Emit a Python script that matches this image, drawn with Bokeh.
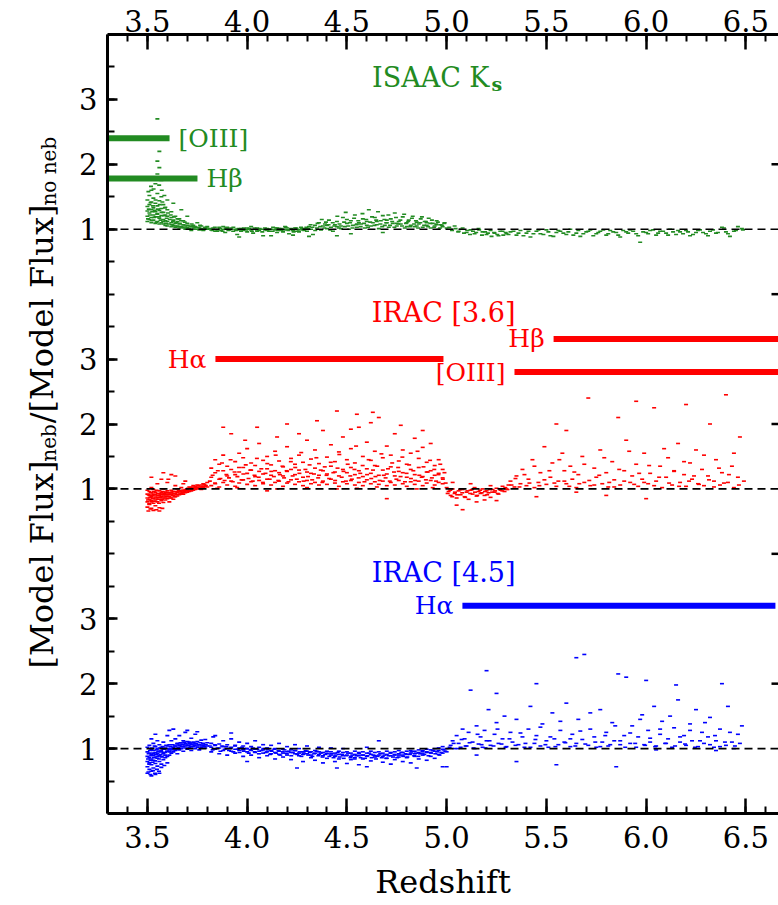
import math
from bokeh.plotting import figure
from bokeh.layouts import row
from bokeh.models import Range1d, LinearAxis, FixedTicker, Label, Span, PrintfTickFormatter
from bokeh.core.properties import value
from bokeh.embed import file_html
from bokeh.resources import INLINE

# ---------------- data (redshift, flux ratio) ----------------
isaac_pts = [
    (3.50,1.12),(3.50,1.20),(3.50,1.28),(3.50,1.35),(3.50,1.45),(3.51,1.15),(3.51,1.25),(3.51,1.38),(3.51,1.52),
    (3.52,1.10),(3.52,1.18),(3.52,1.30),(3.52,1.42),(3.52,1.60),(3.53,1.14),(3.53,1.22),(3.53,1.33),(3.53,1.48),
    (3.54,1.09),(3.54,1.19),(3.54,1.27),(3.54,1.40),(3.54,1.70),(3.55,1.12),(3.55,1.24),(3.55,1.36),(3.55,1.55),
    (3.55,1.85),(3.55,2.05),(3.55,2.70),(3.56,1.08),(3.56,1.17),(3.56,1.29),(3.56,1.44),(3.56,1.95),(3.56,2.20),
    (3.57,1.10),(3.57,1.21),(3.57,1.32),(3.57,1.50),(3.57,1.75),(3.58,1.08),(3.58,1.15),(3.58,1.26),(3.58,1.38),
    (3.59,1.06),(3.59,1.13),(3.59,1.22),(3.59,1.34),(3.60,1.05),(3.60,1.12),(3.60,1.20),(3.60,1.30),(3.60,1.45),
    (3.62,1.04),(3.62,1.10),(3.62,1.18),(3.62,1.27),(3.63,1.06),(3.63,1.14),(3.63,1.40),(3.64,1.03),(3.64,1.09),
    (3.64,1.20),(3.65,1.05),(3.65,1.12),(3.66,1.02),(3.66,1.08),(3.66,1.16),(3.67,1.04),(3.67,1.30),(3.68,1.02),
    (3.68,1.07),(3.68,1.13),(3.69,1.00),(3.69,1.05),(3.70,1.03),(3.70,1.09),(3.70,1.20),(3.71,1.01),(3.72,1.04),
    (3.72,0.98),(3.73,1.06),(3.74,1.00),(3.74,1.03),(3.75,1.10),(3.76,0.99),(3.76,1.02),(3.77,1.05),(3.78,0.98),
    (3.79,1.01),(3.80,1.00),(3.80,1.04),
    (3.82,0.99),(3.83,1.02),(3.84,0.97),(3.85,1.00),(3.86,1.03),(3.87,0.98),(3.88,1.00),(3.89,0.95),(3.90,1.01),
    (3.91,0.99),(3.92,1.02),(3.93,0.97),(3.94,1.00),(3.95,0.92),(3.96,0.99),(3.97,1.01),(3.98,0.98),(3.99,1.00),
    (4.00,0.96),(4.01,1.01),(4.02,0.99),(4.03,0.94),(4.04,1.00),(4.05,1.02),(4.06,0.98),(4.07,1.00),(4.08,0.90),
    (4.09,0.99),(4.10,1.01),(4.11,0.97),(4.12,1.00),(4.13,1.03),(4.14,0.99),(4.15,0.95),(4.16,1.01),(4.17,0.98),
    (4.18,1.00),(4.19,1.04),(4.20,0.99),(4.21,0.93),(4.22,1.01),(4.23,0.98),(4.24,1.02),(4.25,1.00),(4.26,0.96),
    (4.27,1.03),(4.28,0.99),(4.29,1.01),(4.30,0.97),
    (3.85,0.97),(3.90,1.03),(3.95,1.00),(4.00,1.02),(4.05,0.97),(4.10,0.98),(4.15,1.02),(4.20,1.02),(4.25,0.97),
    (3.88,1.04),(4.02,1.04),(4.18,0.96),
    (4.31,1.04),(4.32,1.00),(4.33,0.92),(4.34,1.06),(4.35,1.02),(4.36,1.10),(4.37,0.99),(4.38,1.05),(4.39,1.08),
    (4.40,1.01),(4.41,1.14),(4.42,1.03),(4.43,0.97),(4.44,1.07),(4.45,1.12),(4.46,1.02),(4.47,1.05),(4.48,1.18),
    (4.49,1.04),(4.50,1.09),(4.51,1.00),(4.52,1.13),(4.53,1.06),(4.54,1.22),(4.55,1.03),(4.56,1.10),(4.57,1.08),
    (4.58,1.16),(4.59,1.02),(4.60,1.12),(4.61,1.30),(4.62,1.05),(4.63,1.10),(4.64,1.18),(4.65,1.07),(4.66,1.01),
    (4.67,1.13),(4.68,1.21),(4.69,1.06),(4.70,1.10),(4.71,1.03),(4.72,1.16),(4.73,1.09),(4.74,1.25),(4.75,1.05),
    (4.76,1.12),(4.77,1.08),(4.78,1.19),(4.79,1.02),(4.80,1.10),(4.81,1.14),(4.82,1.06),(4.83,1.20),(4.84,1.04),
    (4.85,1.11),(4.86,1.08),(4.87,1.16),(4.88,1.03),(4.89,1.12),(4.90,1.06),(4.91,1.17),(4.92,1.02),(4.93,1.09),
    (4.94,1.05),(4.95,1.13),(4.96,1.00),(4.97,1.07),(4.98,1.04),(4.99,1.10),(5.00,1.02),
    (4.45,1.04),(4.55,1.08),(4.65,1.12),(4.75,1.09),(4.85,1.05),(4.95,1.07),(4.60,1.06),(4.70,1.14),(4.80,1.04),
    (4.90,1.10),(4.50,1.15),(4.40,1.06),
    (5.02,1.00),(5.04,1.05),(5.06,0.97),(5.08,1.02),(5.10,0.95),(5.12,0.99),(5.14,0.93),(5.16,1.01),(5.18,0.96),
    (5.20,0.92),(5.22,0.98),(5.24,0.94),(5.26,0.90),(5.28,0.97),(5.30,0.93),
    (5.32,0.96),(5.35,0.91),(5.37,0.98),(5.40,0.94),(5.42,0.88),(5.45,0.97),(5.47,0.93),(5.50,0.99),(5.52,0.90),
    (5.55,0.95),(5.57,0.97),(5.60,0.92),(5.62,1.00),(5.65,0.94),(5.67,0.89),(5.70,0.96),(5.72,0.99),(5.75,0.93),
    (5.77,0.97),(5.80,0.91),(5.82,0.98),(5.85,0.95),(5.87,0.88),(5.90,0.96),(5.92,0.99),(5.95,0.93),(5.97,0.80),
    (6.00,0.95),(6.02,0.98),(6.05,0.91),(6.07,0.97),(6.10,0.94),(6.12,1.00),(6.15,0.92),(6.17,0.96),(6.20,0.98),
    (6.22,0.90),(6.25,0.95),(6.27,0.99),(6.30,0.93),(6.32,0.97),(6.35,0.94),(6.38,1.03),(6.40,0.96),(6.42,0.89),
    (6.45,0.98),(6.48,1.01),
]
isaac_dense = [
    (3.503,1.16),(3.507,1.31),(3.512,1.22),(3.516,1.41),(3.521,1.13),(3.524,1.27),(3.528,1.36),(3.533,1.18),
    (3.537,1.29),(3.541,1.45),(3.546,1.11),(3.549,1.23),(3.553,1.31),(3.558,1.19),(3.562,1.38),(3.566,1.14),
    (3.571,1.26),(3.575,1.42),(3.579,1.12),(3.584,1.21),(3.588,1.33),(3.593,1.09),(3.597,1.17),(3.603,1.25),
    (3.607,1.08),(3.612,1.15),(3.617,1.22),(3.623,1.07),(3.628,1.12),(3.634,1.19),(3.639,1.05),(3.645,1.10),
    (3.651,1.16),(3.657,1.04),(3.663,1.09),(3.669,1.13),(3.675,1.03),(3.681,1.07),(3.687,1.11),(3.694,1.02),
    (3.701,1.06),(3.708,1.01),(3.715,1.05),(3.722,1.08),(3.731,1.02),(3.738,1.04),(3.747,1.00),(3.755,1.03),
    (3.764,1.06),(3.772,1.01),(3.781,0.99),(3.789,1.03),(3.797,1.02),
    (3.505,1.58),(3.518,1.66),(3.531,1.62),(3.543,1.78),(3.559,1.68),(3.572,1.60),(3.585,1.52),
    (3.813,1.01),(3.826,0.98),(3.838,1.03),(3.851,0.99),(3.864,1.01),(3.877,0.97),(3.893,1.02),(3.906,0.98),
    (3.918,1.00),(3.931,1.03),(3.944,0.98),(3.957,1.01),(3.969,0.97),(3.983,1.02),(3.996,0.99),(4.011,1.00),
    (4.024,0.97),(4.037,1.02),(4.049,0.99),(4.063,1.01),(4.076,0.96),(4.089,1.02),(4.103,0.99),(4.116,1.00),
    (4.128,0.97),(4.142,1.02),(4.155,0.98),(4.168,1.01),(4.181,0.99),(4.194,1.03),(4.207,0.98),(4.221,1.00),
    (4.233,0.96),(4.246,1.02),(4.259,0.99),(4.273,1.01),(4.286,0.98),(4.297,1.03),
    (3.96,0.88),(4.12,0.90),(4.23,0.91),(4.31,0.89),
    (4.305,1.01),(4.318,1.07),(4.327,1.03),(4.341,0.98),(4.353,1.09),(4.366,1.04),(4.374,1.15),(4.387,1.02),
    (4.395,1.11),(4.408,1.07),(4.416,0.99),(4.429,1.10),(4.437,1.05),(4.452,1.20),(4.463,1.08),(4.471,1.01),
    (4.486,1.11),(4.494,1.26),(4.507,1.05),(4.516,1.10),(4.528,1.02),(4.536,1.17),(4.548,1.07),(4.557,1.13),
    (4.569,1.04),(4.578,1.24),(4.586,1.09),(4.597,1.15),(4.606,1.03),(4.617,1.11),(4.626,1.19),(4.638,1.06),
    (4.647,1.14),(4.656,1.27),(4.668,1.08),(4.677,1.04),(4.688,1.15),(4.697,1.10),(4.708,1.22),(4.716,1.06),
    (4.727,1.12),(4.738,1.03),(4.746,1.18),(4.757,1.08),(4.768,1.14),(4.776,1.05),(4.787,1.23),(4.796,1.09),
    (4.807,1.12),(4.818,1.04),(4.826,1.17),(4.837,1.08),(4.846,1.13),(4.857,1.02),(4.868,1.10),(4.876,1.19),
    (4.887,1.06),(4.896,1.12),(4.907,1.04),(4.918,1.09),(4.926,1.14),(4.937,1.03),(4.948,1.08),(4.956,1.11),
    (4.967,1.02),(4.976,1.06),(4.988,1.09),(4.45,0.90),(4.52,0.93),(4.68,0.95),
    (5.013,1.03),(5.027,0.98),(5.045,1.01),(5.058,0.96),(5.072,1.00),(5.087,0.94),(5.103,0.98),(5.117,0.92),
    (5.132,0.97),(5.148,0.95),(5.163,0.99),(5.177,0.91),(5.193,0.96),(5.207,0.94),(5.225,0.89),(5.238,0.95),
    (5.254,0.92),(5.269,0.97),(5.284,0.91),(5.296,0.95),
    (5.31,0.92),(5.335,0.97),(5.36,0.94),(5.385,0.90),(5.41,0.97),(5.435,0.93),(5.46,0.99),(5.485,0.92),
    (5.51,0.96),(5.535,0.89),(5.56,0.98),(5.585,0.94),(5.61,0.96),(5.635,0.91),(5.66,0.98),(5.685,0.93),
    (5.71,0.97),(5.735,0.90),(5.76,0.95),(5.785,0.99),(5.81,0.93),(5.835,0.96),(5.86,0.91),(5.885,0.98),
    (5.91,0.94),(5.935,0.97),(5.96,0.90),(5.985,0.96),(6.01,0.93),(6.035,0.99),(6.06,0.94),(6.085,0.97),
    (6.11,0.91),(6.135,0.96),(6.16,0.98),(6.185,0.93),(6.21,0.96),(6.235,0.92),(6.26,0.98),(6.285,0.95),
    (6.31,0.90),(6.335,0.99),(6.36,0.95),(6.39,1.02),(6.41,0.93),(6.44,0.97),(6.46,1.04),(6.485,0.99),
]

irac1_pts = [
    (3.50,0.72),(3.50,0.80),(3.50,0.86),(3.50,0.92),(3.50,0.98),(3.51,0.76),(3.51,0.84),(3.51,0.90),(3.51,0.96),
    (3.52,0.70),(3.52,0.82),(3.52,0.88),(3.52,0.94),(3.52,1.02),(3.53,0.78),(3.53,0.86),(3.53,0.92),(3.53,0.99),
    (3.54,0.74),(3.54,0.83),(3.54,0.89),(3.54,0.95),(3.55,0.80),(3.55,0.87),(3.55,0.93),(3.55,1.08),(3.56,0.71),
    (3.56,0.84),(3.56,0.90),(3.56,0.97),(3.57,0.82),(3.57,0.88),(3.57,0.94),(3.57,1.15),(3.58,0.79),(3.58,0.86),
    (3.58,0.92),(3.58,1.00),(3.59,0.83),(3.59,0.89),(3.59,0.95),(3.60,0.85),(3.60,0.91),(3.60,0.97),(3.60,1.10),
    (3.61,0.80),(3.61,0.88),(3.61,0.94),(3.62,0.86),(3.62,0.92),(3.62,0.98),(3.62,1.22),(3.63,0.84),(3.63,0.90),
    (3.63,0.96),(3.64,0.88),(3.64,0.93),(3.64,1.05),(3.65,0.89),(3.65,0.95),(3.65,1.00),
    (3.66,0.91),(3.66,0.97),(3.67,0.93),(3.67,1.02),(3.68,0.92),(3.68,0.98),(3.69,0.94),(3.69,1.12),(3.70,0.95),
    (3.70,1.00),(3.71,0.96),(3.71,1.03),(3.72,0.97),(3.72,1.01),(3.73,0.98),(3.73,1.05),(3.74,0.99),(3.74,1.02),
    (3.75,1.00),(3.75,1.06),(3.76,1.01),(3.77,1.03),(3.77,0.99),(3.78,1.02),(3.78,1.08),(3.79,1.04),(3.80,1.03),
    (3.80,1.10),
    (3.82,1.05),(3.82,1.18),(3.82,1.32),(3.84,1.08),(3.84,1.25),(3.84,1.45),(3.86,1.03),(3.86,1.15),(3.86,1.38),
    (3.88,1.10),(3.88,1.28),(3.88,1.52),(3.90,1.06),(3.90,1.20),(3.90,1.35),(3.92,1.12),(3.92,1.30),(3.92,1.85),
    (3.94,1.04),(3.94,1.22),(3.94,1.42),(3.96,1.09),(3.96,1.26),(3.96,1.55),(3.98,1.14),(3.98,1.33),(3.98,1.48),
    (4.00,1.07),(4.00,1.24),(4.00,1.62),(4.02,1.11),(4.02,1.29),(4.02,1.40),(4.04,1.05),(4.04,1.19),(4.04,1.36),
    (4.06,1.13),(4.06,1.27),(4.06,1.70),(4.08,1.08),(4.08,1.23),(4.08,1.44),(4.10,1.15),(4.10,1.31),(4.10,1.50),
    (4.12,1.06),(4.12,1.21),(4.12,1.37),(4.14,1.10),(4.14,1.28),(4.14,1.58),(4.16,1.12),(4.16,1.25),(4.16,1.43),
    (4.18,1.04),(4.18,1.20),(4.18,1.34),(4.20,1.09),(4.20,1.27),(4.20,1.65),(4.22,1.14),(4.22,1.30),(4.22,1.47),
    (4.24,1.07),(4.24,1.22),(4.24,1.38),(4.26,1.11),(4.26,1.29),(4.26,1.52),(4.28,1.05),(4.28,1.18),(4.28,1.41),
    (4.30,1.13),(4.30,1.26),(4.30,1.75),(4.32,1.08),(4.32,1.24),(4.32,1.46),(4.34,1.10),(4.34,1.32),(4.34,1.60),
    (4.36,1.06),(4.36,1.21),(4.36,1.39),(4.38,1.12),(4.38,1.28),(4.38,1.90),(4.40,1.07),(4.40,1.23),(4.40,1.49),
    (4.42,1.15),(4.42,1.35),(4.42,1.68),(4.44,1.09),(4.44,1.26),(4.44,1.42),(4.46,1.04),(4.46,1.20),(4.46,1.57),
    (4.48,1.11),(4.48,1.30),(4.48,1.80),(4.50,1.08),(4.50,1.25),(4.50,1.45),(4.52,1.13),(4.52,1.33),(4.52,1.62),
    (4.54,1.06),(4.54,1.22),(4.54,1.40),(4.56,1.10),(4.56,1.28),(4.56,1.95),(4.58,1.05),(4.58,1.19),(4.58,1.50),
    (4.60,1.14),(4.60,1.31),(4.60,1.72),(4.62,1.08),(4.62,1.24),(4.62,1.44),(4.64,1.11),(4.64,1.36),(4.64,1.58),
    (4.66,1.07),(4.66,1.21),(4.66,2.10),(4.68,1.12),(4.68,1.29),(4.68,1.48),(4.70,1.05),(4.70,1.23),(4.70,1.66),
    (4.72,1.10),(4.72,1.34),(4.72,1.52),(4.74,1.06),(4.74,1.20),(4.74,1.85),(4.76,1.13),(4.76,1.27),(4.76,1.43),
    (4.78,1.08),(4.78,1.25),(4.78,1.60),(4.80,1.04),(4.80,1.18),(4.80,1.38),(4.82,1.11),(4.82,1.30),(4.82,1.55),
    (4.84,1.07),(4.84,1.22),(4.84,1.78),(4.86,1.12),(4.86,1.33),(4.86,1.47),(4.88,1.05),(4.88,1.19),(4.88,1.64),
    (4.90,1.09),(4.90,1.26),(4.90,1.41),(4.92,1.13),(4.92,1.28),(4.92,1.70),(4.94,1.06),(4.94,1.21),(4.94,1.36),
    (4.96,1.10),(4.96,1.24),(4.96,1.45),(4.98,1.08),(4.98,1.17),(4.98,1.30),
    (4.10,0.97),(4.45,1.00),(4.70,0.85),(4.55,2.15),(4.35,2.05),(4.05,1.95),(4.20,2.00),(4.62,2.02),
    (5.00,1.02),(5.01,0.96),(5.02,0.90),(5.03,1.00),(5.04,0.93),(5.05,0.86),(5.06,0.97),(5.07,0.91),(5.08,0.99),
    (5.09,0.88),(5.10,0.95),(5.11,0.84),(5.12,0.98),(5.13,0.92),(5.14,1.02),(5.15,0.89),(5.16,0.96),(5.17,0.93),
    (5.18,1.00),(5.19,0.90),(5.20,0.97),(5.21,0.94),(5.22,0.87),(5.23,0.99),(5.24,0.95),(5.25,1.01),(5.26,0.92),
    (5.27,0.98),(5.28,1.04),(5.29,0.96),(5.30,1.00),(5.31,1.06),(5.05,0.75),(5.08,0.68),(5.25,0.82),
    (5.32,1.12),(5.34,1.03),(5.35,1.20),(5.37,1.08),(5.38,1.30),(5.40,1.05),(5.41,1.15),(5.43,1.45),(5.44,1.02),
    (5.46,1.10),(5.47,1.25),(5.49,1.65),(5.50,1.07),(5.52,1.18),(5.53,1.40),(5.55,1.04),(5.56,1.12),(5.58,1.55),
    (5.59,1.28),(5.60,1.08),(5.62,1.35),(5.63,1.15),(5.65,1.02),(5.66,1.22),(5.68,1.50),(5.69,1.10),(5.71,2.40),
    (5.72,1.05),(5.74,1.32),(5.75,1.18),(5.77,1.60),(5.78,1.08),(5.80,1.25),(5.81,1.03),(5.83,1.42),(5.84,1.14),
    (5.86,2.10),(5.87,1.06),(5.89,1.28),(5.90,1.75),(5.92,1.10),(5.93,1.20),(5.95,1.38),(5.96,1.04),(5.98,1.15),
    (5.99,1.55),(6.01,1.08),(6.02,1.24),(6.04,2.25),(6.05,1.12),(6.07,1.35),(6.08,1.02),(6.10,1.18),(6.11,1.48),
    (6.13,1.06),(6.14,1.28),(6.16,1.70),(6.17,1.10),(6.19,1.22),(6.20,1.04),(6.22,1.40),(6.23,1.15),(6.25,1.60),
    (6.26,1.08),(6.28,1.30),(6.29,1.05),(6.31,1.20),(6.32,2.00),(6.34,1.12),(6.35,1.45),(6.37,1.06),(6.38,1.25),
    (6.40,2.45),(6.41,1.10),(6.43,1.35),(6.44,1.02),(6.46,1.18),(6.47,1.80),(6.49,1.12),(5.55,2.00),(5.65,0.95),
    (5.80,0.90),(6.00,0.85),(5.45,0.88),(6.20,2.30),(5.95,2.35),(5.60,1.90),
]
irac1_dense = [
    (3.503,0.83),(3.506,0.91),(3.509,0.77),(3.514,0.87),(3.517,0.94),(3.521,0.80),(3.525,0.90),(3.528,0.85),
    (3.532,0.96),(3.535,0.81),(3.539,0.91),(3.543,0.86),(3.546,0.98),(3.551,0.84),(3.554,0.90),(3.558,0.78),
    (3.562,0.93),(3.565,0.87),(3.569,0.91),(3.573,0.84),(3.577,0.96),(3.581,0.89),(3.585,0.93),(3.589,0.86),
    (3.593,0.92),(3.597,0.88),(3.603,0.94),(3.607,0.89),(3.612,0.92),(3.616,0.86),(3.621,0.95),(3.626,0.90),
    (3.631,0.93),(3.636,0.88),(3.641,0.96),(3.646,0.91),(3.652,0.94),(3.657,0.97),(3.663,0.92),(3.668,0.96),
    (3.674,0.94),(3.679,0.98),(3.685,0.96),(3.691,0.99),(3.697,0.97),(3.703,1.01),(3.709,0.98),(3.716,1.02),
    (3.722,1.00),(3.729,1.03),(3.735,1.01),(3.742,1.04),(3.749,1.02),(3.756,1.05),(3.763,1.03),(3.771,1.06),
    (3.778,1.04),(3.786,1.07),(3.793,1.05),
    (3.505,0.66),(3.515,0.69),(3.53,0.67),(3.545,0.68),(3.56,0.66),(3.575,0.70),(3.52,1.18),(3.58,1.25),
    (3.605,1.15),(3.64,1.20),(3.68,1.08),
    (3.813,1.12),(3.827,1.21),(3.839,1.09),(3.853,1.28),(3.866,1.16),(3.874,1.40),(3.887,1.13),(3.896,1.22),
    (3.909,1.17),(3.917,1.45),(3.928,1.11),(3.937,1.26),(3.951,1.19),(3.959,1.33),(3.972,1.14),(3.981,1.23),
    (3.993,1.37),(4.007,1.16),(4.016,1.29),(4.028,1.12),(4.037,1.21),(4.049,1.47),(4.058,1.18),(4.071,1.31),
    (4.079,1.10),(4.092,1.24),(4.101,1.39),(4.113,1.15),(4.121,1.27),(4.134,1.19),(4.143,1.52),(4.156,1.13),
    (4.164,1.22),(4.177,1.35),(4.185,1.17),(4.198,1.28),(4.207,1.11),(4.219,1.42),(4.228,1.20),(4.241,1.33),
    (4.249,1.15),(4.262,1.24),(4.271,1.56),(4.283,1.12),(4.292,1.30),(4.305,1.19),(4.313,1.37),(4.326,1.14),
    (4.335,1.23),(4.347,1.48),(4.356,1.17),(4.369,1.29),(4.377,1.10),(4.389,1.34),(4.398,1.21),(4.411,1.16),
    (4.419,1.41),(4.432,1.25),(4.441,1.13),(4.453,1.32),(4.462,1.53),(4.474,1.18),(4.483,1.27),(4.495,1.12),
    (4.504,1.38),(4.517,1.20),(4.525,1.15),(4.538,1.30),(4.546,1.66),(4.559,1.17),(4.567,1.24),(4.579,1.36),
    (4.588,1.11),(4.601,1.22),(4.609,1.45),(4.622,1.16),(4.631,1.29),(4.643,1.19),(4.652,1.35),(4.664,1.13),
    (4.673,1.54),(4.685,1.21),(4.694,1.17),(4.706,1.31),(4.715,1.12),(4.727,1.40),(4.736,1.26),(4.748,1.15),
    (4.757,1.33),(4.769,1.19),(4.778,1.49),(4.791,1.11),(4.799,1.24),(4.812,1.37),(4.821,1.16),(4.833,1.28),
    (4.842,1.13),(4.854,1.58),(4.863,1.21),(4.875,1.18),(4.884,1.34),(4.896,1.14),(4.905,1.26),(4.917,1.44),
    (4.926,1.17),(4.938,1.30),(4.947,1.12),(4.959,1.22),(4.968,1.38),(4.981,1.15),(4.989,1.25),(4.995,1.09),
    (3.85,1.01),(3.95,1.02),(4.15,1.00),(4.30,1.02),(4.55,1.01),(4.65,1.03),(4.85,1.00),(4.93,1.02),
    (3.88,1.95),(3.99,1.75),(4.26,1.85),(4.45,2.20),(4.52,1.92),(4.63,2.18),(4.77,1.98),(4.88,1.90),(4.15,1.80),
    (5.005,0.93),(5.018,0.98),(5.028,0.88),(5.042,0.95),(5.053,0.91),(5.067,0.99),(5.078,0.94),(5.093,0.87),
    (5.104,0.97),(5.118,0.93),(5.127,0.99),(5.142,0.95),(5.153,0.90),(5.168,0.98),(5.176,0.94),(5.192,0.96),
    (5.203,0.91),(5.217,0.99),(5.228,0.95),(5.243,0.97),(5.256,0.93),(5.268,1.00),(5.279,0.97),(5.294,1.02),
    (5.305,0.99),(5.15,0.80),(5.19,0.83),(5.03,1.10),(5.12,1.08),(5.22,1.05),
    (5.325,1.06),(5.345,1.16),(5.365,1.03),(5.39,1.22),(5.415,1.09),(5.44,1.35),(5.465,1.05),(5.49,1.14),
    (5.515,1.28),(5.54,1.09),(5.565,1.45),(5.59,1.12),(5.615,1.04),(5.64,1.26),(5.665,1.08),(5.69,1.38),
    (5.715,1.13),(5.74,1.06),(5.765,1.21),(5.79,1.48),(5.815,1.10),(5.84,1.03),(5.865,1.30),(5.89,1.12),
    (5.915,1.58),(5.94,1.07),(5.965,1.24),(5.99,1.10),(6.015,1.36),(6.04,1.05),(6.065,1.18),(6.09,1.62),
    (6.115,1.09),(6.14,1.27),(6.165,1.04),(6.19,1.42),(6.215,1.12),(6.24,1.20),(6.265,1.07),(6.29,1.52),
    (6.315,1.14),(6.34,1.03),(6.365,1.32),(6.39,1.09),(6.415,1.22),(6.44,1.55),(6.465,1.06),
]

irac2_pts = [
    (3.50,0.62),(3.50,0.72),(3.50,0.80),(3.50,0.88),(3.50,0.95),(3.50,1.02),(3.51,0.68),(3.51,0.78),(3.51,0.86),
    (3.51,0.93),(3.51,1.05),(3.52,0.65),(3.52,0.75),(3.52,0.84),(3.52,0.91),(3.52,0.99),(3.52,1.15),(3.53,0.70),
    (3.53,0.82),(3.53,0.90),(3.53,0.97),(3.53,1.08),(3.54,0.60),(3.54,0.77),(3.54,0.87),(3.54,0.94),(3.54,1.03),
    (3.55,0.73),(3.55,0.85),(3.55,0.92),(3.55,1.00),(3.55,1.12),(3.56,0.80),(3.56,0.89),(3.56,0.96),(3.56,1.06),
    (3.57,0.76),(3.57,0.88),(3.57,0.95),(3.57,1.02),(3.58,0.83),(3.58,0.92),(3.58,0.99),(3.58,1.10),(3.59,0.86),
    (3.59,0.94),(3.59,1.01),(3.60,0.88),(3.60,0.96),(3.60,1.04),(3.60,1.20),
    (3.61,0.90),(3.61,0.98),(3.61,1.06),(3.62,0.93),(3.62,1.00),(3.62,1.12),(3.63,0.95),(3.63,1.02),(3.63,1.30),
    (3.64,0.97),(3.64,1.04),(3.64,1.15),(3.65,0.92),(3.65,1.00),(3.65,1.08),(3.66,0.98),(3.66,1.05),(3.66,1.20),
    (3.67,1.00),(3.67,1.07),(3.68,0.96),(3.68,1.03),(3.68,1.12),(3.69,1.01),(3.69,1.08),(3.70,0.99),(3.70,1.05),
    (3.70,1.28),(3.71,1.02),(3.71,1.10),(3.72,0.97),(3.72,1.06),(3.72,1.16),(3.73,1.03),(3.73,1.09),(3.74,1.00),
    (3.74,1.07),(3.74,1.22),(3.75,1.04),(3.75,1.11),(3.76,0.98),(3.76,1.06),(3.77,1.02),(3.77,1.13),(3.78,1.05),
    (3.78,1.08),(3.79,1.01),(3.79,1.14),(3.80,1.04),(3.80,1.09),
    (3.82,1.02),(3.82,1.08),(3.82,0.95),(3.84,1.05),(3.84,0.99),(3.84,1.20),(3.86,1.01),(3.86,1.07),(3.86,0.92),
    (3.88,1.03),(3.88,0.97),(3.88,1.12),(3.90,1.00),(3.90,1.06),(3.90,0.90),(3.92,1.02),(3.92,0.96),(3.92,1.15),
    (3.94,0.99),(3.94,1.05),(3.94,0.93),(3.96,1.01),(3.96,0.97),(3.96,1.10),(3.98,0.98),(3.98,1.04),(3.98,0.88),
    (4.00,1.00),(4.00,0.95),(4.00,1.08),(4.02,0.97),(4.02,1.03),(4.02,0.90),(4.04,0.99),(4.04,0.94),(4.04,1.12),
    (4.06,0.96),(4.06,1.02),(4.06,0.86),(4.08,0.98),(4.08,0.93),(4.08,1.06),(4.10,0.95),(4.10,1.01),(4.10,0.89),
    (4.12,0.97),(4.12,0.92),(4.12,1.05),(4.14,0.94),(4.14,1.00),(4.14,0.84),(4.16,0.96),(4.16,0.91),(4.16,1.08),
    (4.18,0.93),(4.18,0.99),(4.18,0.87),(4.20,0.95),(4.20,0.90),(4.20,1.03),(4.22,0.94),(4.22,0.98),(4.22,0.83),
    (4.24,0.92),(4.24,0.97),(4.24,1.06),(4.26,0.93),(4.26,0.89),(4.26,1.00),(4.28,0.95),(4.28,0.91),(4.28,0.80),
    (4.30,0.92),(4.30,0.96),(4.30,1.04),(4.32,0.90),(4.32,0.95),(4.32,0.86),(4.34,0.93),(4.34,0.97),(4.34,0.82),
    (4.36,0.91),(4.36,0.95),(4.36,1.02),(4.38,0.89),(4.38,0.94),(4.38,0.78),(4.40,0.92),(4.40,0.96),(4.40,0.85),
    (4.42,0.90),(4.42,0.95),(4.42,1.01),(4.44,0.88),(4.44,0.93),(4.44,0.80),(4.46,0.91),(4.46,0.96),(4.46,0.84),
    (4.48,0.89),(4.48,0.94),(4.48,1.00),(4.50,0.90),(4.50,0.95),(4.50,0.77),(4.52,0.88),(4.52,0.93),(4.52,0.83),
    (4.54,0.91),(4.54,0.96),(4.54,0.86),(4.56,0.89),(4.56,0.94),(4.56,0.75),(4.58,0.90),(4.58,0.95),(4.58,0.84),
    (4.60,0.88),(4.60,0.93),(4.60,1.02),(4.62,0.91),(4.62,0.96),(4.62,0.81),(4.64,0.89),(4.64,0.94),(4.64,0.87),
    (4.66,0.90),(4.66,0.95),(4.66,1.12),(4.68,0.88),(4.68,0.93),(4.68,0.79),(4.70,0.91),(4.70,0.96),(4.70,0.85),
    (4.72,0.89),(4.72,0.94),(4.72,0.76),(4.74,0.90),(4.74,0.95),(4.74,0.83),(4.76,0.92),(4.76,0.97),(4.76,0.87),
    (4.78,0.90),(4.78,0.94),(4.78,0.80),(4.80,0.91),(4.80,0.96),(4.80,0.86),(4.82,0.93),(4.82,0.97),(4.82,0.78),
    (4.84,0.92),(4.84,0.96),(4.84,0.88),(4.86,0.94),(4.86,0.98),(4.86,0.84),(4.88,0.93),(4.88,0.97),(4.88,0.90),
    (4.90,0.95),(4.90,0.99),(4.90,0.82),(4.92,0.94),(4.92,0.98),(4.92,0.88),(4.94,0.96),(4.94,1.00),(4.94,0.85),
    (4.96,0.97),(4.96,1.01),(4.96,0.91),(4.98,0.99),(4.98,1.03),(4.98,0.93),(5.00,1.00),(5.00,0.95),(5.00,0.72),
    (3.52,0.58),(3.56,0.62),(4.00,0.80),(4.25,0.70),(4.45,0.70),(4.60,0.72),(4.85,0.70),(4.98,0.72),
    (5.02,1.05),(5.03,1.12),(5.04,1.00),(5.05,1.20),(5.06,1.08),(5.07,1.02),(5.08,1.30),(5.09,1.15),(5.10,1.04),
    (5.11,1.25),(5.12,1.90),(5.13,1.10),(5.14,1.00),(5.15,1.35),(5.16,1.07),(5.17,1.18),(5.18,1.02),(5.19,1.28),
    (5.20,1.12),(5.21,1.60),(5.22,1.05),(5.24,1.22),(5.25,1.40),(5.26,1.08),(5.28,1.15),(5.29,1.50),(5.30,1.03),
    (5.32,1.25),(5.33,1.10),(5.35,1.45),(5.36,1.06),(5.38,1.18),(5.39,1.02),(5.41,1.30),(5.42,1.65),(5.44,1.08),
    (5.45,1.20),(5.47,1.04),(5.48,1.38),(5.50,1.12),(5.51,1.02),(5.53,1.55),(5.54,1.15),(5.56,1.06),(5.57,1.28),
    (5.59,1.10),(5.60,1.70),(5.62,1.03),(5.63,1.22),(5.65,1.08),(5.66,1.45),(5.68,1.14),(5.69,2.45),(5.71,1.05),
    (5.72,1.30),(5.74,1.18),(5.75,1.02),(5.77,1.60),(5.78,1.10),(5.80,1.25),(5.81,1.04),(5.83,1.40),(5.84,1.12),
    (5.86,2.15),(5.87,1.06),(5.89,1.20),(5.90,2.10),(5.92,1.08),(5.93,1.35),(5.95,1.02),(5.96,1.18),(5.98,1.52),
    (5.99,1.06),(6.01,1.28),(6.02,1.10),(6.04,1.65),(6.05,1.04),(6.07,1.22),(6.08,1.42),(6.10,1.08),(6.11,1.15),
    (6.13,1.02),(6.14,1.32),(6.16,1.75),(6.17,1.10),(6.19,1.20),(6.20,1.05),(6.22,1.38),(6.23,1.12),(6.25,1.60),
    (6.26,1.03),(6.28,1.25),(6.29,1.08),(6.31,1.18),(6.32,1.48),(6.34,1.02),(6.35,1.12),(6.37,1.30),(6.38,2.00),
    (6.40,1.05),(6.41,1.65),(6.43,1.10),(6.44,1.00),(6.46,1.22),(6.48,1.35),(5.15,0.90),(5.35,0.80),(5.55,0.75),
    (5.85,0.72),(6.05,0.98),(6.35,0.97),(5.20,2.20),(5.45,2.00),(5.65,2.40),(6.00,2.05),(6.15,1.98),(5.25,1.85),
]
irac2_dense = [
    (3.503,0.84),(3.506,0.92),(3.509,0.76),(3.513,0.97),(3.516,0.82),(3.519,0.89),(3.523,1.01),(3.526,0.79),
    (3.529,0.93),(3.533,0.86),(3.536,1.04),(3.539,0.81),(3.543,0.91),(3.547,0.98),(3.551,0.88),(3.554,0.95),
    (3.558,0.84),(3.562,1.01),(3.565,0.91),(3.569,0.97),(3.573,0.87),(3.577,1.03),(3.581,0.94),(3.585,0.99),
    (3.589,0.90),(3.594,1.05),(3.598,0.96),(3.605,1.00),(3.611,0.95),(3.616,1.03),(3.622,0.98),(3.627,1.06),
    (3.633,1.00),(3.638,1.04),(3.644,0.99),(3.649,1.07),(3.655,1.02),(3.661,1.05),(3.666,1.09),(3.672,1.03),
    (3.678,1.06),(3.684,1.10),(3.689,1.04),(3.695,1.07),(3.701,1.11),(3.707,1.05),(3.713,1.08),(3.719,1.03),
    (3.725,1.07),(3.731,1.10),(3.737,1.05),(3.744,1.08),(3.751,1.02),(3.758,1.06),(3.765,1.09),(3.772,1.04),
    (3.779,1.07),(3.786,1.03),(3.793,1.06),
    (3.505,0.64),(3.515,0.60),(3.528,0.66),(3.538,0.62),(3.548,0.68),(3.558,0.65),(3.57,0.71),(3.585,0.74),
    (3.60,0.78),(3.54,1.22),(3.61,1.28),(3.69,1.25),(3.75,1.26),(3.83,1.18),(3.92,1.24),
    (3.813,1.04),(3.827,0.98),(3.838,1.06),(3.852,1.01),(3.866,0.96),(3.873,1.04),(3.887,0.99),(3.896,1.03),
    (3.909,0.97),(3.918,1.01),(3.931,0.95),(3.939,1.04),(3.953,0.99),(3.962,0.94),(3.974,1.02),(3.983,0.96),
    (3.996,1.00),(4.008,0.93),(4.017,0.98),(4.029,1.01),(4.038,0.95),(4.051,0.99),(4.059,0.92),(4.072,0.97),
    (4.081,1.00),(4.093,0.94),(4.102,0.98),(4.115,0.91),(4.123,0.96),(4.136,0.99),(4.145,0.93),(4.157,0.97),
    (4.166,0.90),(4.179,0.95),(4.187,0.98),(4.199,0.92),(4.208,0.96),(4.221,0.89),(4.229,0.94),(4.242,0.97),
    (4.251,0.91),(4.263,0.95),(4.272,0.88),(4.284,0.93),(4.293,0.97),(4.306,0.90),(4.314,0.94),(4.327,0.88),
    (4.336,0.92),(4.348,0.96),(4.357,0.89),(4.369,0.93),(4.378,0.87),(4.391,0.91),(4.399,0.95),(4.412,0.88),
    (4.421,0.92),(4.433,0.86),(4.442,0.90),(4.454,0.94),(4.463,0.87),(4.476,0.91),(4.484,0.85),(4.497,0.89),
    (4.505,0.93),(4.518,0.86),(4.527,0.90),(4.539,0.84),(4.548,0.89),(4.561,0.92),(4.569,0.86),(4.582,0.90),
    (4.591,0.85),(4.603,0.89),(4.612,0.93),(4.624,0.86),(4.633,0.90),(4.646,0.84),(4.654,0.88),(4.667,0.92),
    (4.675,0.86),(4.688,0.90),(4.697,0.85),(4.709,0.89),(4.718,0.93),(4.731,0.87),(4.739,0.91),(4.752,0.86),
    (4.761,0.90),(4.773,0.94),(4.782,0.88),(4.794,0.92),(4.803,0.87),(4.816,0.91),(4.824,0.95),(4.837,0.89),
    (4.846,0.93),(4.858,0.88),(4.867,0.92),(4.879,0.96),(4.888,0.91),(4.901,0.94),(4.909,0.89),(4.922,0.93),
    (4.931,0.97),(4.943,0.92),(4.952,0.95),(4.964,0.90),(4.973,0.94),(4.985,0.98),(4.993,0.96),
    (5.015,1.02),(5.035,1.08),(5.055,1.00),(5.075,1.14),(5.095,1.04),(5.115,1.09),(5.135,1.01),(5.155,1.22),
    (5.175,1.06),(5.195,1.01),(5.215,1.12),(5.235,1.04),(5.255,1.30),(5.275,1.07),(5.295,1.02),(5.315,1.15),
    (5.345,1.05),(5.37,1.24),(5.395,1.08),(5.42,1.02),(5.445,1.14),(5.47,1.33),(5.495,1.06),(5.52,1.18),
    (5.545,1.03),(5.57,1.42),(5.595,1.09),(5.62,1.15),(5.645,1.04),(5.67,1.27),(5.695,1.07),(5.72,1.55),
    (5.745,1.10),(5.77,1.03),(5.795,1.20),(5.82,1.06),(5.845,1.35),(5.87,1.12),(5.895,1.02),(5.92,1.24),
    (5.945,1.08),(5.97,1.45),(5.995,1.05),(6.02,1.16),(6.045,1.03),(6.07,1.30),(6.095,1.08),(6.12,1.50),
    (6.145,1.04),(6.17,1.18),(6.195,1.07),(6.22,1.28),(6.245,1.02),(6.27,1.12),(6.295,1.40),(6.32,1.06),
    (6.345,1.20),(6.37,1.03),(6.395,1.10),(6.42,1.25),(6.445,1.04),(6.47,1.08),
]

# emission lines falling in each filter: (name, z_start, z_end, ratio level)
isaac_lines = [("[OIII]", 3.30, 3.611, 2.40), ("H\u03b2", 3.30, 3.751, 1.78)]
irac1_lines = [("H\u03b1", 3.841, 4.984, 3.00), ("H\u03b2", 5.536, 6.70, 3.31), ("[OIII]", 5.340, 6.70, 2.80)]
irac2_lines = [("H\u03b1", 5.079, 6.648, 3.20)]

x_major = [3.5, 4.0, 4.5, 5.0, 5.5, 6.0, 6.5]
x_minor = [round(3.3 + 0.1 * k, 1) for k in range(0, 35)]
y_label_ticks = [1, 2, 3, 5, 6, 7, 9, 10, 11]
y_label_text = ["1", "2", "3", "1", "2", "3", "1", "2", "3"]
y_even_ticks = [2, 4, 6, 8, 10]

# ---------------- layout constants ----------------
FONT = "DejaVu Serif"
GREEN, RED, BLUE = "#228B22", "#FF0000", "#0000FF"
panels = [
    (isaac_pts + isaac_dense, isaac_lines, GREEN, 8, "right"),
    (irac1_pts + irac1_dense, irac1_lines, RED, 4, "left"),
    (irac2_pts + irac2_dense, irac2_lines, BLUE, 0, "left"),
]

LABEL_W = 62
TOP_B, BOT_B = 34, 92
X0, X1 = 3.3, 6.6634
FRAME_W = 778 - 107
p = figure(width=778 - LABEL_W, height=905, x_range=Range1d(X0, X1), y_range=Range1d(0, 12),
           output_backend="svg", toolbar_location=None,
           x_axis_location=None, y_axis_location=None,
           min_border_left=107 - LABEL_W, min_border_right=0, min_border_top=TOP_B, min_border_bottom=BOT_B)
p.outline_line_color = None
p.xgrid.visible = False
p.ygrid.visible = False


def style_axis(ax, major_in, minor_in, size="29px"):
    ax.axis_line_width = 3
    ax.axis_line_color = "black"
    ax.major_tick_in = major_in
    ax.major_tick_out = 0
    ax.minor_tick_in = minor_in
    ax.minor_tick_out = 0
    ax.major_tick_line_width = 2.5
    ax.minor_tick_line_width = 2
    ax.major_tick_line_color = "black"
    ax.minor_tick_line_color = "black"
    ax.major_label_text_font = FONT
    ax.major_label_text_font_size = size
    ax.major_label_text_color = "black"


bottom = LinearAxis(ticker=FixedTicker(ticks=x_major, minor_ticks=x_minor),
                    formatter=PrintfTickFormatter(format="%.1f"))
style_axis(bottom, 15, 7)
bottom.major_label_standoff = 12
bottom.axis_label = "Redshift"
bottom.axis_label_text_font = FONT
bottom.axis_label_text_font_size = "32px"
bottom.axis_label_text_font_style = "normal"
bottom.axis_label_text_color = "black"
bottom.axis_label_standoff = 12
p.add_layout(bottom, "below")

top = LinearAxis(ticker=FixedTicker(ticks=x_major, minor_ticks=x_minor),
                 formatter=PrintfTickFormatter(format="%.1f"))
style_axis(top, 15, 7)
top.major_label_standoff = 3
p.add_layout(top, "above")

y_minor = [0.5 * k for k in range(1, 24)]
left = LinearAxis(ticker=FixedTicker(ticks=y_label_ticks, minor_ticks=y_minor),
                  major_label_overrides={t: s for t, s in zip(y_label_ticks, y_label_text)})
style_axis(left, 10, 7)
left.major_label_standoff = 10
p.add_layout(left, "left")

# right-hand frame ticks (the right frame edge itself lies just outside the picture)
tick_len = 7 * (X1 - X0) / FRAME_W
p.segment([X1 - tick_len] * len(y_even_ticks), y_even_ticks, [X1] * len(y_even_ticks), y_even_ticks,
          line_color="black", line_width=2.5)

# ---------------- panels ----------------
for pts, lines, color, off, side in panels:
    zs = [a for a, b in pts]
    rs = [b + off for a, b in pts]
    p.scatter(zs, rs, marker="dash", size=4, line_color=color, line_width=1.6)
    p.add_layout(Span(location=1 + off, dimension="width", line_color="black",
                      line_width=1.6, line_dash="8 5"))
    x0 = [l[1] for l in lines]
    x1 = [l[2] for l in lines]
    yy = [l[3] + off for l in lines]
    p.segment(x0, yy, x1, yy, line_color=color, line_width=6, line_cap="butt")
    for (lab_txt, za, zb, lev) in lines:
        if side == "right":
            p.add_layout(Label(x=zb, y=lev + off, x_offset=9, text=lab_txt, text_align="left",
                               text_baseline="middle", text_font=FONT, text_font_size="25px",
                               text_color=color))
        else:
            p.add_layout(Label(x=za, y=lev + off, x_offset=-9, text=lab_txt, text_align="right",
                               text_baseline="middle", text_font=FONT, text_font_size="25px",
                               text_color=color))

# panel titles
p.add_layout(Label(x=5.215, y=11.33, text="ISAAC K", text_align="right", text_baseline="alphabetic",
                   text_font=FONT, text_font_size="27px", text_color=GREEN))
p.add_layout(Label(x=5.225, y=11.33, y_offset=-6, text="s", text_align="left", text_baseline="alphabetic",
                   text_font=FONT, text_font_size="19px", text_font_style="bold", text_color=GREEN))
p.add_layout(Label(x=4.985, y=7.72, text="IRAC [3.6]", text_align="center", text_baseline="alphabetic",
                   text_font=FONT, text_font_size="27px", text_color=RED))
p.add_layout(Label(x=4.985, y=3.71, text="IRAC [4.5]", text_align="center", text_baseline="alphabetic",
                   text_font=FONT, text_font_size="27px", text_color=BLUE))

# ---------------- rotated y-axis title with subscripts (separate strip on the left) ----------------
# its frame has the same vertical extent as the main frame, and its y range is in page pixels
lab = figure(width=LABEL_W, height=905, x_range=Range1d(0, LABEL_W), y_range=Range1d(905 - BOT_B, TOP_B),
             output_backend="svg", toolbar_location=None, x_axis_location=None, y_axis_location=None,
             min_border_left=0, min_border_right=0, min_border_top=TOP_B, min_border_bottom=BOT_B)
lab.outline_line_color = None
lab.xgrid.visible = False
lab.ygrid.visible = False

EM = {" ": 0.318, "[": 0.39, "]": 0.39, "/": 0.337, "M": 0.94, "o": 0.602, "d": 0.64, "e": 0.592,
      "l": 0.32, "F": 0.715, "u": 0.64, "x": 0.564, "n": 0.644, "b": 0.64}
pieces = [("[Model Flux]", 32, 0), ("neb", 20, 7), ("/[Model Flux]", 32, 0), ("no neb", 20, 7)]
pos = 668.0     # pixel row where the title starts (reads upward)
base_x = 41.0   # baseline column
for txt, fs, drop in pieces:
    lab.text(x=[base_x + drop], y=[pos], text=[txt], angle=math.pi / 2,
             text_align="left", text_baseline="alphabetic",
             text_font=value(FONT), text_font_size=value(f"{fs}px"), text_color="black")
    pos -= sum(EM.get(c, 0.6) for c in txt) * fs + 1

layout = row(lab, p)
open("out.html", "w").write(file_html(layout, INLINE))
